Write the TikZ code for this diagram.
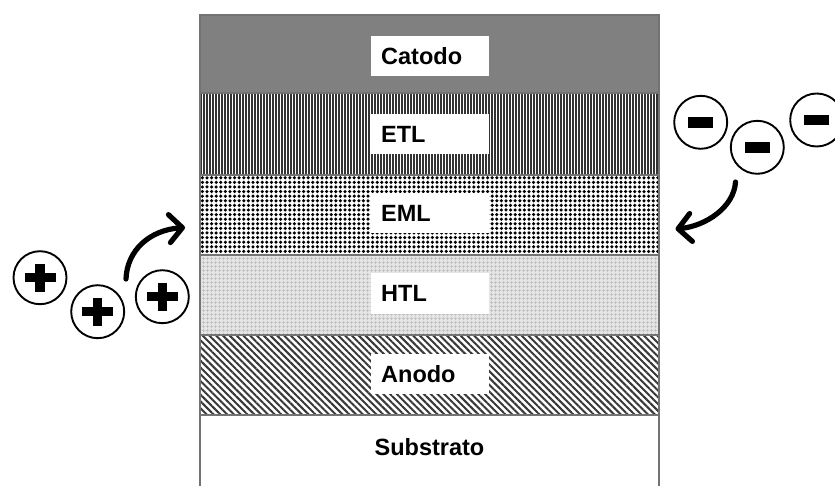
\documentclass[tikz,border=0pt]{standalone}
\usepackage{fontspec}
\setmainfont{Liberation Sans}
\usetikzlibrary{patterns.meta,arrows.meta}

\tikzset{
  layer/.style={draw=black!55, line width=1.3pt},
  tag/.style={fill=white, inner xsep=10pt, inner ysep=0pt, text width=98pt,
    align=left, minimum height=40pt, anchor=west,
    font=\fontsize{23.5}{28}\selectfont\bfseries},
  plain tag/.style={font=\fontsize{23.5}{28}\selectfont\bfseries},
  ion/.style={circle, draw=black, line width=1.9pt, minimum size=53pt, inner sep=0pt},
  hole/.style={ion, path picture={
      \fill ([shift={(-15.5pt,-4.7pt)}]path picture bounding box.center) rectangle ++(31pt,9.4pt);
      \fill ([shift={(-4.7pt,-14pt)}]path picture bounding box.center) rectangle ++(9.4pt,28pt);}},
  electron/.style={ion, path picture={
      \fill ([shift={(-12.5pt,-5.3pt)}]path picture bounding box.center) rectangle ++(25pt,10.6pt);}},
  flow/.style={line width=5.2pt, line cap=round,
    -{Straight Barb[length=13pt,width=28pt,round]}}
}

\begin{document}
\begin{tikzpicture}[x=1pt,y=-1pt]
  \clip (0,0) rectangle (835,486);
  \fill[white] (0,0) rectangle (835,486);

  % device stack
  \path[layer, fill=black!50] (200,15) rectangle (659,93);
  \path[layer, preaction={fill=white}, pattern={Lines[angle=90,distance=3pt,line width=1.4pt]},
        pattern color=black!80] (200,93) rectangle (659,175);
  \path[layer, preaction={fill=white}, pattern={Dots[distance=4.6pt,radius=1.75pt]},
        pattern color=black] (200,175) rectangle (659,255);
  \path[layer, preaction={fill=black!10}, pattern={Hatch[distance=4pt,line width=0.6pt]},
        pattern color=black!28] (200,255) rectangle (659,335);
  \path[layer, preaction={fill=white}, pattern={Lines[angle=-45,distance=4.8pt,line width=2pt]},
        pattern color=black!78] (200,335) rectangle (659,415);
  \path[layer, fill=white] (200,415) rectangle (659,500);

  % layer names
  \node[tag] (catodo) at (371,56) {Catodo};
  \node[tag] (etl) at (371,134) {ETL};
  \node[tag] (eml) at (371,213) {EML};
  \node[tag] (htl) at (371,293.5) {HTL};
  \node[tag] (anodo) at (371,374) {Anodo};
  \node[plain tag] (substrato) at (429.5,447.5) {Substrato};

  % holes entering from the anode side
  \node[hole] (h1) at (40,277.7) {};
  \node[hole] (h2) at (97.7,311.7) {};
  \node[hole] (h3) at (162.3,296.7) {};
  \coordinate (hs) at (126,279);
  \coordinate (he) at (185,227.5);
  \draw[flow] (hs) .. controls (127,250) and (150,230) .. (he);

  % electrons entering from the cathode side
  \node[electron] (e1) at (700.7,122.3) {};
  \node[electron] (e2) at (757.3,147.3) {};
  \node[electron] (e3) at (816.7,120) {};
  \coordinate (es) at (735.5,182);
  \coordinate (ee) at (675.5,229);
  \draw[flow] (es) .. controls (734,207) and (706,226) .. (ee);
\end{tikzpicture}
\end{document}
